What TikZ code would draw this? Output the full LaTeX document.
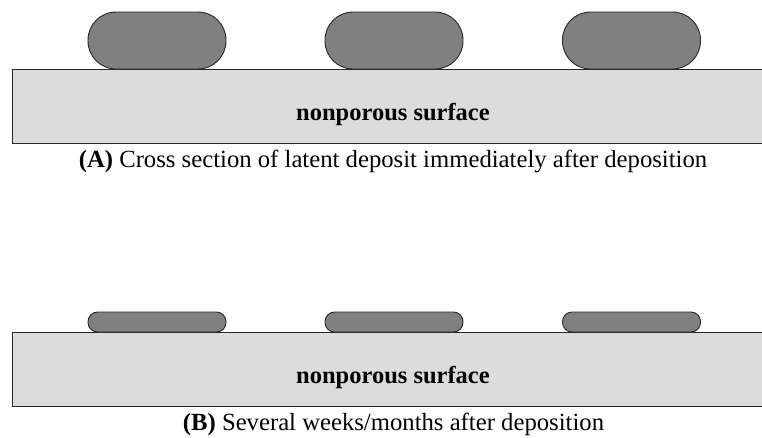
\documentclass[tikz,border=0pt]{standalone}
\usepackage{fontspec}
\setmainfont{Liberation Serif}
\usetikzlibrary{positioning}
\definecolor{slabgray}{HTML}{DCDCDC}
\definecolor{blobgray}{HTML}{808080}
\begin{document}
\begin{tikzpicture}[
    x=1pt, y=-1pt,
    slab/.style={draw=black!85, fill=slabgray, line width=1pt},
    fresh/.style={draw=black!85, fill=blobgray, line width=0.9pt, minimum width=138pt, minimum height=57pt, rounded corners=28pt, inner sep=0pt},
    aged/.style={draw=black!85, fill=blobgray, line width=0.9pt, minimum width=138pt, minimum height=20pt, rounded corners=9.5pt, inner sep=0pt},
    surf/.style={font=\fontsize{24.5}{26}\selectfont\bfseries},
    caption/.style={font=\fontsize{24.7}{26}\selectfont}
]
\useasboundingbox (0,0) rectangle (762,437);

% Panel A
\draw[slab] (12.5,69) rectangle (770,143);
\foreach \i/\x in {1/157,2/394,3/631.5}
    \node[fresh] (freshA\i) at (\x,40.5) {};
\node[surf] (surfA) at (393,114) {nonporous surface};
\node[caption] (capA) at (393,161) {\textbf{(A)} Cross section of latent deposit immediately after deposition};

% Panel B
\draw[slab] (12.5,332) rectangle (770,406);
\foreach \i/\x in {1/157,2/394,3/631.5}
    \node[aged] (agedB\i) at (\x,322) {};
\node[surf] (surfB) at (393,377) {nonporous surface};
\node[caption] (capB) at (393.5,424) {\textbf{(B)} Several weeks/months after deposition};

\end{tikzpicture}
\end{document}
